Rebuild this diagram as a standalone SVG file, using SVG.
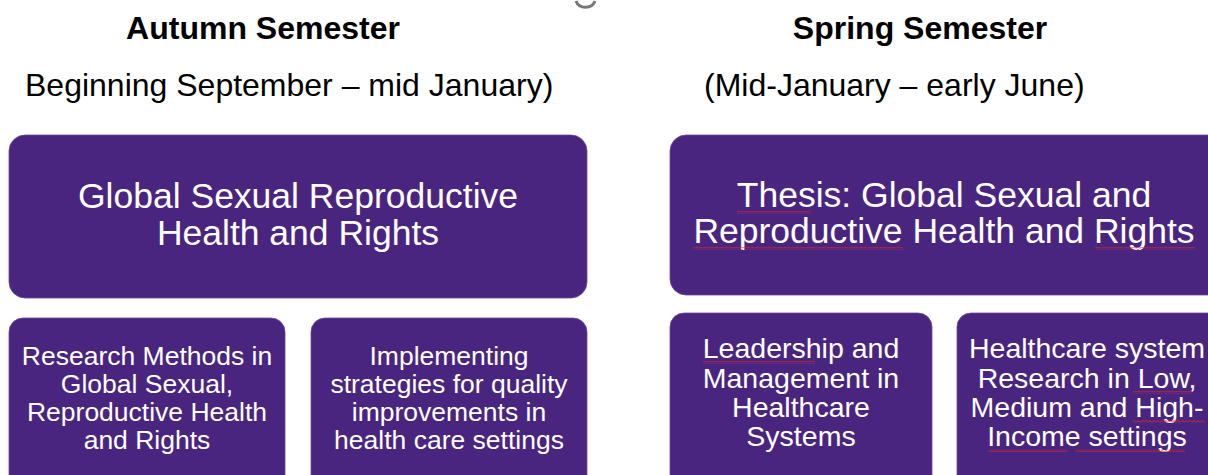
<svg xmlns="http://www.w3.org/2000/svg" width="1208" height="475" viewBox="0 0 1208 475">
<style>
.box{fill:#4a2580;stroke:#6a4a9a;stroke-width:0.8}
.hd{font-family:"Liberation Sans",Arial,sans-serif;font-weight:bold;font-size:32px;fill:#000;text-anchor:middle}
.sub{font-family:"Liberation Sans",Arial,sans-serif;font-size:32px;fill:#000}
.big{font-family:"Liberation Sans",Arial,sans-serif;font-size:35.5px;fill:#fff;text-anchor:middle}
.sm{font-family:"Liberation Sans",Arial,sans-serif;font-size:26.5px;fill:#fff;text-anchor:middle}
.smr{font-family:"Liberation Sans",Arial,sans-serif;font-size:28.5px;fill:#fff;text-anchor:middle}
.sq{fill:url(#wave)}
</style>
<defs>
<pattern id="wave" width="4" height="3" patternUnits="userSpaceOnUse">
<path d="M0,2.5 L2,0.5 L4,2.5" fill="none" stroke="#e02828" stroke-width="1"/>
</pattern>
</defs>
<rect width="1208" height="475" fill="#fff"/>
<path d="M576,1 A10,9 0 0 0 595,1" fill="none" stroke="#777" stroke-width="3"/>
<text class="hd" x="263" y="39">Autumn Semester</text>
<text class="hd" x="920" y="39">Spring Semester</text>
<text class="sub" x="25" y="96">Beginning September – mid January)</text>
<text class="sub" x="704" y="96">(Mid-January – early June)</text>
<g id="connectors"/>
<g id="n1"><rect class="box" x="9" y="135" width="578" height="163" rx="16"/>
<text class="big" x="298" y="208">Global Sexual Reproductive</text>
<text class="big" x="298" y="245">Health and Rights</text></g>
<g id="n2"><rect class="box" x="670" y="135" width="560" height="160" rx="16"/>
<text class="big" x="944" y="207">Thesis: Global Sexual and</text>
<text class="big" x="944" y="243">Reproductive Health and Rights</text>
<rect class="sq" x="737" y="211" width="74" height="3"/>
<rect class="sq" x="693" y="247" width="210" height="3"/>
<rect class="sq" x="1095" y="247" width="100" height="3"/></g>
<g id="n3"><rect class="box" x="9" y="318" width="276" height="180" rx="14"/>
<text class="sm" x="147" y="365">Research Methods in</text>
<text class="sm" x="147" y="393">Global Sexual,</text>
<text class="sm" x="147" y="421">Reproductive Health</text>
<text class="sm" x="147" y="449">and Rights</text></g>
<g id="n4"><rect class="box" x="311" y="318" width="276" height="180" rx="14"/>
<text class="sm" x="449" y="365">Implementing</text>
<text class="sm" x="449" y="393">strategies for quality</text>
<text class="sm" x="449" y="421">improvements in</text>
<text class="sm" x="449" y="449">health care settings</text></g>
<g id="n5"><rect class="box" x="670" y="313" width="262" height="185" rx="14"/>
<text class="smr" x="801" y="358">Leadership and</text>
<text class="smr" x="801" y="388">Management in</text>
<text class="smr" x="801" y="417">Healthcare</text>
<text class="smr" x="801" y="446">Systems</text>
<rect class="sq" x="703" y="361" width="112" height="3"/></g>
<g id="n6"><rect class="box" x="957" y="313" width="270" height="185" rx="14"/>
<text class="smr" x="1087" y="358">Healthcare system</text>
<text class="smr" x="1087" y="388">Research in Low,</text>
<text class="smr" x="1087" y="417">Medium and High-</text>
<text class="smr" x="1087" y="446">Income settings</text>
<rect class="sq" x="1133" y="391" width="59" height="3"/>
<rect class="sq" x="1133" y="420" width="72" height="3"/>
<rect class="sq" x="989" y="449" width="78" height="3"/>
<rect class="sq" x="1075" y="449" width="110" height="3"/></g>
</svg>
